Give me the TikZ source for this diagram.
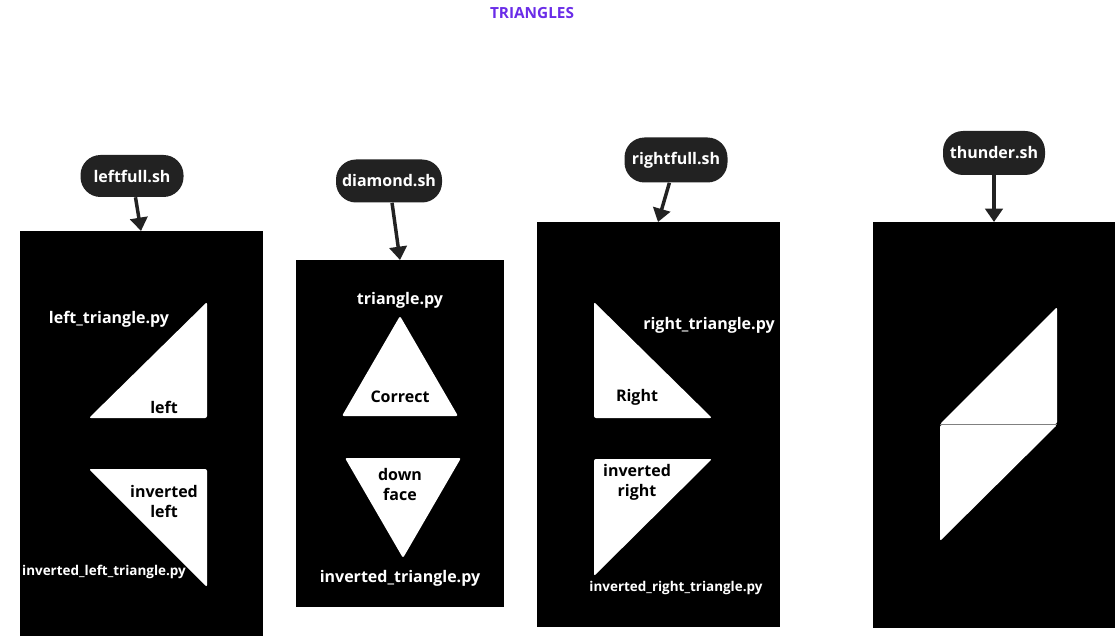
\documentclass[tikz,border=0pt]{standalone}
\usepackage{fontspec}
\setmainfont{Open Sans}
\usetikzlibrary{arrows.meta}
\definecolor{pill}{HTML}{222222}
\definecolor{titlec}{HTML}{6A2CE8}
\tikzset{
  pillnode/.style={fill=pill, text=white, rounded corners=15pt, inner sep=0pt,
    font=\fontsize{12}{14}\selectfont\bfseries},
  conn/.style={draw=pill, line width=2.6pt, -{Triangle[length=10pt,width=13pt]}},
  wlabel/.style={text=white, font=\fontsize{12}{14}\selectfont\bfseries, inner sep=0pt},
  blabel/.style={text=black, font=\fontsize{12}{15}\selectfont\bfseries, inner sep=0pt, align=center},
  slabel/.style={text=white, font=\fontsize{10.1}{12}\selectfont\bfseries, inner sep=0pt},
  panel/.style={fill=black},
  tri/.style={fill=white, rounded corners=1.5pt}
}
\begin{document}
\begin{tikzpicture}[x=0.75pt,y=-0.75pt]
\useasboundingbox[fill=white] (0,0) rectangle (1117,638);
\node[text=titlec, font=\fontsize{11.5}{13}\selectfont\bfseries] (title) at (532,13) {TRIANGLES};

% panels
\fill[panel] (20,231) rectangle (263,636);
\fill[panel] (296,260) rectangle (504,607);
\fill[panel] (537,222) rectangle (780,627);
\fill[panel] (873,222) rectangle (1115,628);

\coordinate (t1) at (141,231);
\coordinate (t2) at (400,260);
\coordinate (t3) at (658,222);
\coordinate (t4) at (994,222);

% pills
\node[pillnode, minimum width={103*0.75pt}, minimum height={42*0.75pt}] (s1) at (132,176) {leftfull.sh};
\node[pillnode, minimum width={106*0.75pt}, minimum height={43*0.75pt}] (s2) at (389,181) {diamond.sh};
\node[pillnode, minimum width={103*0.75pt}, minimum height={45*0.75pt}] (s3) at (676,160) {rightfull.sh};
\node[pillnode, minimum width={102*0.75pt}, minimum height={44*0.75pt}] (s4) at (994,153) {thunder.sh};

\draw[conn] (s1) -- (t1);
\draw[conn] (s2) -- (t2);
\draw[conn] (s3) -- (t3);
\draw[conn] (s4) -- (t4);

% panel 1
\fill[tri] (89,418) -- (207,302) -- (207,418) -- cycle;
\fill[tri] (89,469) -- (207,469) -- (207,587) -- cycle;
\node[wlabel] (l1) at (109,319) {left\_triangle.py};
\node[blabel] (l2) at (164,407) {left};
\node[blabel] (l3) at (164,501) {inverted\\left};
\node[slabel] (l4) at (104,572) {inverted\_left\_triangle.py};

% panel 2
\fill[tri] (342,416) -- (400,316) -- (458,416) -- cycle;
\fill[tri] (345,458) -- (461,458) -- (403,558) -- cycle;
\node[wlabel] (d1) at (400,300) {triangle.py};
\node[blabel] (d2) at (400,397) {Correct};
\node[blabel] (d3) at (400,484) {down\\face};
\node[wlabel] (d4) at (400,578) {inverted\_triangle.py};

% panel 3
\fill[tri] (594,302) -- (594,418) -- (712,418) -- cycle;
\fill[tri] (594,459) -- (712,459) -- (594,576) -- cycle;
\node[wlabel] (r1) at (709,325) {right\_triangle.py};
\node[blabel] (r2) at (637,397) {Right};
\node[blabel] (r3) at (637,482) {inverted\\right};
\node[slabel] (r4) at (676,588) {inverted\_right\_triangle.py};

% panel 4
\fill[tri] (940,424) -- (1057,307) -- (1057,424) -- cycle;
\fill[tri] (940,425) -- (1057,425) -- (940,541) -- cycle;
\draw[gray, line width=0.75pt] (940,424.5) -- (1057,424.5);
\end{tikzpicture}
\end{document}
